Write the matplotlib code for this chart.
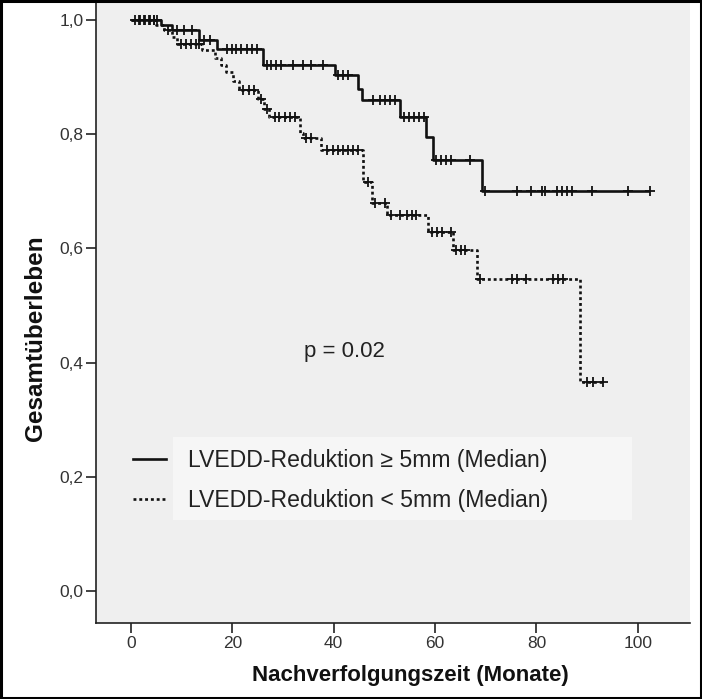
import numpy as np
import matplotlib
matplotlib.use("Agg")
import matplotlib.pyplot as plt
from matplotlib.patches import Rectangle
from matplotlib.lines import Line2D

plt.rcParams['font.family'] = ['Liberation Sans', 'DejaVu Sans']

# Kaplan-Meier step data: event times (months) and survival after each event
times_ge5 = [6.0, 8.0, 13.5, 17.0, 26.0, 40.2, 44.8, 45.5, 53.0, 58.3, 59.6, 69.2]
surv_ge5 = [0.992, 0.983, 0.966, 0.950, 0.922, 0.904, 0.880, 0.860, 0.831, 0.796, 0.755, 0.701]
end_ge5 = 102.5
censored_ge5 = [1.5, 2.5, 3.5, 4.5, 5.2, 9.0, 10.5, 12.0, 14.5, 15.5,
                18.9, 19.9, 20.8, 21.8, 22.8, 23.8, 24.8,
                26.8, 27.7, 28.7, 29.7, 32.0, 34.0, 35.6, 37.9,
                40.8, 41.8, 42.8, 47.7, 49.1, 50.1, 51.1, 52.1,
                53.8, 54.8, 55.8, 56.8, 57.8, 60.2, 61.2, 62.2, 63.2, 66.9,
                69.8, 76.1, 79.0, 81.0, 81.7, 84.0, 85.0, 86.0, 87.0, 90.9, 98.1, 102.5]

times_lt5 = [5.0, 6.5, 8.0, 9.0, 14.0, 16.5, 17.8, 18.8, 20.1, 21.4, 25.0, 26.3, 27.3,
             33.3, 34.0, 37.4, 45.8, 47.6, 50.6, 58.7, 63.6, 68.2, 88.6]
surv_lt5 = [0.991, 0.982, 0.970, 0.959, 0.947, 0.933, 0.921, 0.910, 0.894, 0.877, 0.862, 0.845, 0.831,
            0.803, 0.793, 0.772, 0.717, 0.679, 0.659, 0.629, 0.597, 0.546, 0.367]
end_lt5 = 93.2
censored_lt5 = [0.8, 1.8, 2.8, 3.8, 4.5, 7.3, 9.8, 10.8, 11.8, 12.8, 13.4,
                22.2, 23.2, 24.2, 25.6, 26.8, 28.4, 29.3, 30.3, 31.3, 32.3,
                34.6, 35.6, 38.6, 39.9, 40.8, 41.8, 42.8, 43.8, 44.8,
                46.8, 48.1, 50.1, 51.3, 53.1, 54.4, 55.4, 56.2,
                59.3, 60.3, 61.3, 63.2, 64.2, 65.1, 66.0,
                68.8, 75.1, 76.1, 78.0, 83.3, 84.3, 85.2, 89.9, 91.2, 93.2]

labels = ["LVEDD-Reduktion \u2265 5mm (Median)", "LVEDD-Reduktion < 5mm (Median)"]
p_text = "p = 0.02"
xticks = [0, 20, 40, 60, 80, 100]
yticks = [0.0, 0.2, 0.4, 0.6, 0.8, 1.0]
ytick_labels = ["0,0", "0,2", "0,4", "0,6", "0,8", "1,0"]


def step_value(times, surv, t):
    idx = np.searchsorted(times, t, side='right')
    return np.r_[1.0, surv][idx]


fig = plt.figure(figsize=(7.02, 6.99), dpi=100)
W, H = 702, 699
ax = fig.add_axes([96 / W, (H - 623) / H, (690 - 96) / W, (623 - 3) / H])
ax.set_facecolor('#efefef')
ax.set_xlim(-6.9, 110.3)
ax.set_ylim(-0.056, 1.030)

ink = '#111111'

# legend background panel
ax.add_patch(Rectangle((8.3, 0.124), 90.5, 0.146, facecolor='#f6f6f6',
                       edgecolor='none', zorder=1))

styles = [dict(color=ink, lw=1.9, ls='-'),
          dict(color=ink, lw=1.9, ls=(0, (1.1, 1.1)))]

groups = [(times_ge5, surv_ge5, end_ge5, censored_ge5),
          (times_lt5, surv_lt5, end_lt5, censored_lt5)]

for (tt, ss, end, cens), st in zip(groups, styles):
    x = np.r_[0.0, tt, end]
    y = np.r_[1.0, ss, ss[-1]]
    ax.step(x, y, where='post', zorder=3, solid_capstyle='butt',
            dash_capstyle='butt', **st)
    cs = step_value(np.array(tt), np.array(ss), np.array(cens))
    ax.plot(cens, cs, ls='none', marker='+', ms=6.5, mew=1.3, color=ink, zorder=4)

handles = [Line2D([], [], **styles[0]), Line2D([], [], **styles[1])]
ax.legend(handles, labels, loc='center left', bbox_to_anchor=(0.39, 0.1935),
          bbox_transform=ax.transData, frameon=False, fontsize=16.6,
          handlelength=1.45, handletextpad=0.95, labelspacing=0.72,
          borderpad=0, borderaxespad=0, labelcolor='#222222')

ax.text(42.2, 0.42, p_text, ha='center', va='center', fontsize=16, color='#222222')

ax.set_xticks(xticks)
ax.set_yticks(yticks)
ax.set_yticklabels(ytick_labels)
ax.tick_params(direction='out', length=7, width=1.2, color='#222222',
               labelsize=12.5, labelcolor='#333333', pad=2)
for side in ('top', 'right'):
    ax.spines[side].set_visible(False)
for side in ('left', 'bottom'):
    ax.spines[side].set_linewidth(1.2)
    ax.spines[side].set_color('#222222')

ax.set_xlabel("Nachverfolgungszeit (Monate)", fontsize=16, fontweight='bold', color='#111111')
ax.set_ylabel("Gesamtüberleben", fontsize=17.5, fontweight='bold', color='#111111')
ax.xaxis.label.set_va('center')
ax.yaxis.label.set_va('center')
ax.xaxis.set_label_coords((410 - 96) / 594, (623 - 675) / 620)
ax.yaxis.set_label_coords((35 - 96) / 594, (623 - 338) / 620)

# outer frame around the whole figure
fig.patches.append(Rectangle((0.002, 0.002), 0.996, 0.996, transform=fig.transFigure,
                             fill=False, edgecolor='black', linewidth=2.2))

fig.savefig("out.png", dpi=100)
